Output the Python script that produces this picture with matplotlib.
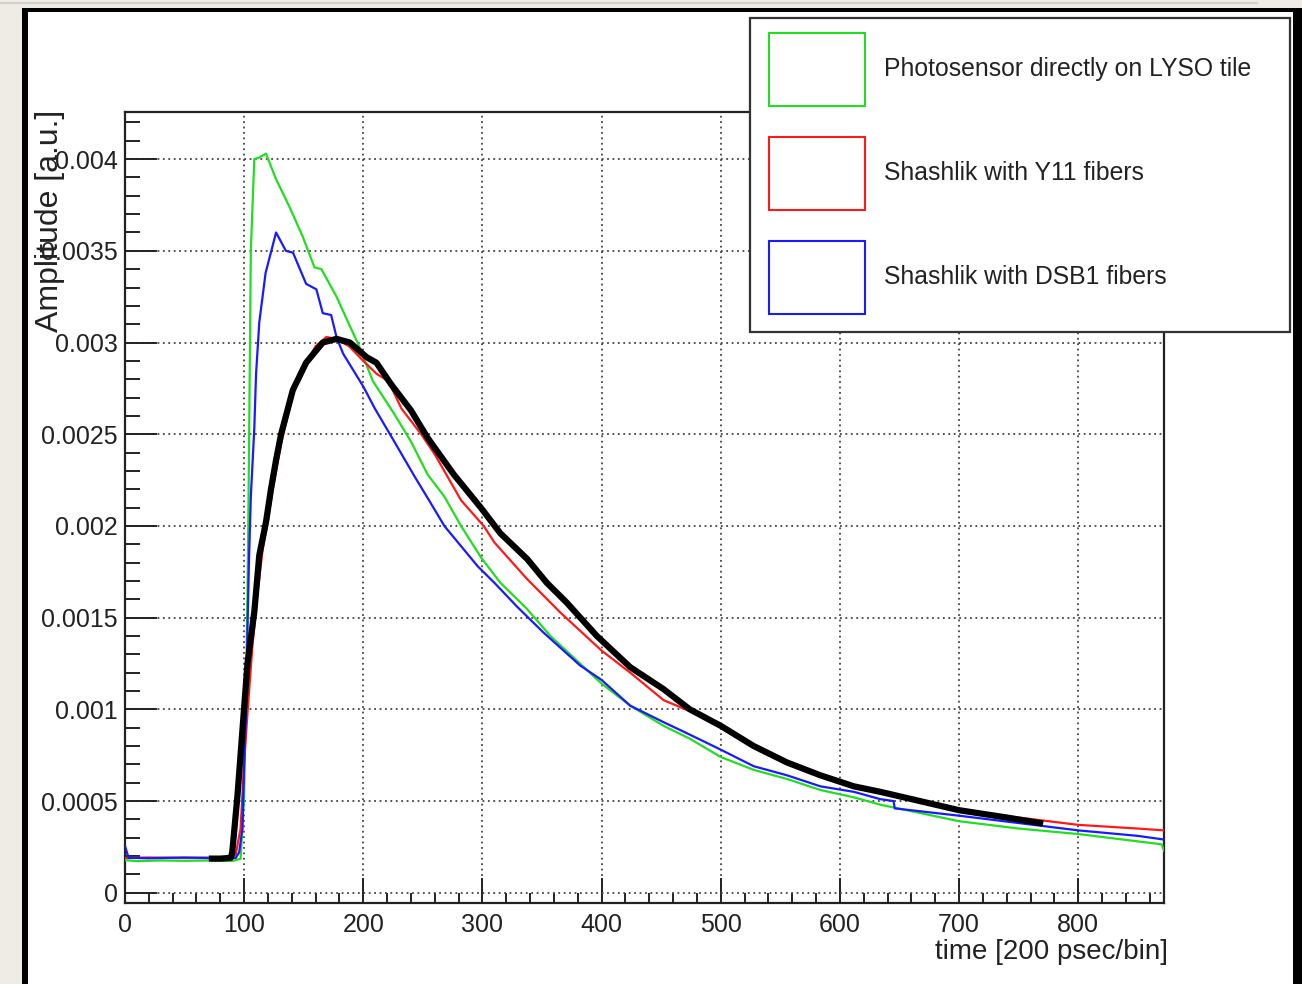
import matplotlib.pyplot as plt
from matplotlib.patches import Patch, Rectangle
from matplotlib.lines import Line2D
from matplotlib.ticker import MultipleLocator

plt.rcParams["font.family"] = ["Liberation Sans", "DejaVu Sans"]

# --- data (time bin, amplitude) ---
green_x = [0, 10, 30, 50, 70, 90, 97, 100, 101.4, 102.8, 103.7, 104.2, 105.6, 108.5, 113, 118.3,
           126.8, 138, 149, 159, 164.8, 177.5, 188.7, 195.8, 208, 226, 240, 254, 268, 282, 298.6,
           315, 337, 357, 381.8, 400, 424, 452, 474, 500, 527.6, 555.7, 583.7, 611.8, 634, 700,
           750, 800, 850, 870, 872]
green_y = [0.000178, 0.000172, 0.000176, 0.000174, 0.000176, 0.000173, 0.000185, 0.00053, 0.00107,
           0.00162, 0.00216, 0.0025, 0.0035, 0.0040, 0.00401, 0.00403, 0.00389, 0.00374, 0.00358,
           0.00341, 0.0034, 0.00325, 0.00309, 0.00299, 0.00279, 0.00261, 0.00246, 0.00228, 0.00216,
           0.0020, 0.00183, 0.00169, 0.00155, 0.0014, 0.00125, 0.00114, 0.00102, 0.00091, 0.00084,
           0.00074, 0.00067, 0.00062, 0.00056, 0.00052, 0.00048, 0.00039, 0.00035, 0.00032,
           0.00028, 0.000264, 0.00023]

red_x = [0, 20, 50, 80, 91, 93, 97, 100, 102.8, 107, 111, 115.5, 119.7, 124, 131, 141, 152, 160,
         169, 177, 188, 200, 211, 221, 232, 248.6, 260, 282, 301, 310, 337.5, 365, 390, 400, 424,
         452, 474, 500, 527.6, 555.7, 583.7, 611.8, 634, 700, 750, 800, 850, 872]
red_y = [0.00019, 0.000192, 0.00019, 0.000192, 0.000195, 0.00021, 0.00035, 0.00071, 0.00098,
         0.00135, 0.00162, 0.00187, 0.00202, 0.0022, 0.00245, 0.00272, 0.00289, 0.00298, 0.00303,
         0.00302, 0.00298, 0.0029, 0.00283, 0.00279, 0.00264, 0.0025, 0.00239, 0.00214, 0.0020,
         0.00191, 0.00171, 0.00153, 0.00138, 0.00132, 0.0012, 0.00105, 0.00099, 0.00091, 0.0008,
         0.00071, 0.00064, 0.00058, 0.00055, 0.00045, 0.00041, 0.00037, 0.00035, 0.00034]

blue_x = [0, 3, 20, 50, 80, 93, 95.8, 98.6, 100, 102, 102.8, 104, 105.6, 108.5, 110, 112.7, 118,
          126.8, 135, 141, 152, 160.6, 166, 173, 177.5, 183, 191.5, 200, 209.7, 226, 243, 257, 268,
          282, 296, 310, 329, 351, 381.8, 400, 424, 452, 471.5, 500, 527.6, 555.7, 583.7, 611.8,
          634, 645, 646, 700, 750, 800, 850, 872]
blue_y = [0.000255, 0.00019, 0.000188, 0.000192, 0.000188, 0.00019, 0.00022, 0.00035, 0.00071,
          0.00107, 0.00144, 0.0018, 0.00216, 0.00253, 0.00283, 0.00311, 0.00338, 0.0036, 0.0035,
          0.00349, 0.00332, 0.00329, 0.00316, 0.00315, 0.00303, 0.00294, 0.00285, 0.00276, 0.00264,
          0.00246, 0.00227, 0.00212, 0.0020, 0.00189, 0.00178, 0.00169, 0.00156, 0.00142, 0.00124,
          0.00116, 0.00102, 0.00093, 0.00087, 0.00078, 0.00069, 0.00064, 0.00058, 0.00055, 0.00051,
          0.0005, 0.00046, 0.00042, 0.00038, 0.00034, 0.00031, 0.00029]

black_x = [73, 80, 88.7, 90, 94.4, 98.6, 102.8, 108.5, 112.7, 118.3, 122.5, 126.8, 131, 140.8, 152,
           166, 177.5, 188.7, 202.8, 211, 223.6, 240, 254, 276, 298.6, 315, 337.5, 354, 371, 396,
           424, 452, 474, 500, 527.6, 555.7, 583.7, 611.8, 634, 700, 740, 768]
black_y = [0.000186, 0.000186, 0.00019, 0.00022, 0.00053, 0.00089, 0.00125, 0.00153, 0.00184,
           0.00202, 0.0022, 0.00236, 0.0025, 0.00274, 0.00289, 0.0030, 0.00302, 0.0030, 0.00292,
           0.00289, 0.00277, 0.00263, 0.00248, 0.00228, 0.0021, 0.00196, 0.00182, 0.00169, 0.00158,
           0.0014, 0.00123, 0.00111, 0.0010, 0.00091, 0.0008, 0.00071, 0.00064, 0.00058, 0.00055,
           0.00045, 0.00041, 0.00038]

legend_labels = ["Photosensor directly on LYSO tile", "Shashlik with Y11 fibers",
                 "Shashlik with DSB1 fibers"]
y_ticks = [0, 0.0005, 0.001, 0.0015, 0.002, 0.0025, 0.003, 0.0035, 0.004]
y_tick_labels = ["0", "0.0005", "0.001", "0.0015", "0.002", "0.0025", "0.003", "0.0035", "0.004"]
x_ticks = [0, 100, 200, 300, 400, 500, 600, 700, 800]

W, H = 1302, 984
GREEN, RED, BLUE = "#22dd22", "#ff1a1a", "#1a1aff"
FS = 18
LEG_FS = 17.8


def main() -> None:
    fig = plt.figure(figsize=(W / 100, H / 100), dpi=100)
    fig.patch.set_facecolor("#efece6")

    # screenshot frame: black border, white canvas
    fig.add_artist(Rectangle((22 / W, 0), 1 - 22 / W, 1 - 8 / H, transform=fig.transFigure,
                             facecolor="black", edgecolor="none", zorder=-10))
    fig.add_artist(Rectangle((28 / W, 0), (1293 - 28) / W, 1 - 12 / H, transform=fig.transFigure,
                             facecolor="white", edgecolor="none", zorder=-9))
    fig.add_artist(Line2D([0, 1257 / W], [1 - 3 / H, 1 - 3 / H], transform=fig.transFigure,
                          color="#d4d1cb", lw=1.5, zorder=-8))

    ax = fig.add_axes([125 / W, (H - 903) / H, (1164 - 125) / W, (903 - 112) / H])
    ax.set_facecolor("white")

    ax.plot(green_x, green_y, color=GREEN, lw=1.6, zorder=3)
    ax.plot(red_x, red_y, color=RED, lw=1.6, zorder=3)
    ax.plot(blue_x, blue_y, color=BLUE, lw=1.6, zorder=4)
    ax.plot(black_x, black_y, color="black", lw=4.5, zorder=5)

    ax.set_xlim(0, 872)
    ax.set_ylim(-0.000056, 0.004257)

    ax.set_xticks(x_ticks)
    ax.set_xticklabels([str(t) for t in x_ticks], fontsize=FS)
    ax.set_yticks(y_ticks)
    ax.set_yticklabels(y_tick_labels, fontsize=FS)
    ax.xaxis.set_minor_locator(MultipleLocator(20))
    ax.yaxis.set_minor_locator(MultipleLocator(0.0001))

    ax.tick_params(axis="y", which="major", direction="in", length=23, width=1.4, pad=5,
                   colors="#222", labelcolor="#222")
    ax.tick_params(axis="y", which="minor", direction="in", length=11, width=1.4, colors="#222")
    ax.tick_params(axis="x", which="major", direction="in", length=18, width=1.4, pad=7,
                   colors="#222", labelcolor="#222")
    ax.tick_params(axis="x", which="minor", direction="in", length=7, width=1.4, colors="#222")
    ax.tick_params(top=False, right=False, which="both")

    for spine in ax.spines.values():
        spine.set_linewidth(1.6)
        spine.set_color("#222")

    ax.set_axisbelow(True)
    ax.grid(True, which="major", linestyle=(0, (1, 2)), color="#444", lw=1.3)

    ax.set_xlabel("time [200 psec/bin]", loc="right", fontsize=20, color="#222")
    ax.xaxis.set_label_coords(1.004, -0.045)
    ax.set_ylabel("Amplitude [a.u.]", loc="top", fontsize=23, color="#222")
    ax.yaxis.set_label_coords(-0.058, 1.003)

    # legend box (drawn separately so its size matches the ROOT pave)
    fig.add_artist(Rectangle((750 / W, 1 - 332 / H), (1290 - 750) / W, (332 - 18) / H,
                             transform=fig.transFigure, facecolor="white", edgecolor="#333",
                             lw=1.6, zorder=8))
    handles = [Patch(facecolor="white", edgecolor=c, lw=1.5) for c in (GREEN, RED, BLUE)]
    fs_px = LEG_FS * 100 / 72
    leg = fig.legend(handles, legend_labels, loc="upper left",
                     bbox_to_anchor=(752 / W, 1 - 16 / H), bbox_transform=fig.transFigure,
                     fontsize=LEG_FS, frameon=False, borderpad=0.68,
                     handlelength=96 / fs_px, handleheight=4.17, labelspacing=1.25,
                     handletextpad=0.77, borderaxespad=0)
    leg.set_zorder(9)
    for t in leg.get_texts():
        t.set_color("#222")

    fig.savefig("out.png", dpi=100, facecolor=fig.get_facecolor())


if __name__ == "__main__":
    main()
